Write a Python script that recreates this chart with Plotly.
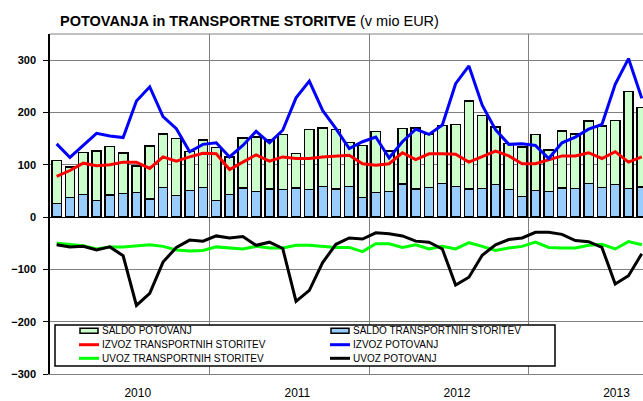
import plotly.graph_objects as go

# monthly data, Jan 2010 - Sep 2013 (mio EUR)
months = [f"{y}-{m:02d}" for y in (2010, 2011, 2012) for m in range(1, 13)] + \
         [f"2013-{m:02d}" for m in range(1, 10)]
years = ["2010", "2011", "2012", "2013"]

saldo_transport = [25.5, 37, 43.4, 32, 42, 44.7, 47.3, 34.5, 56.8, 40.9, 50.4, 57,
                   32, 43.4, 55.5, 49, 53.6, 52.4, 55.5, 53, 58.7, 53.6, 58.7, 37,
                   46.6, 49, 63.2, 53.6, 56.2, 64.5, 58.7, 53.6, 54.3, 62.3, 52.4, 39.6,
                   50.4, 49, 55.5, 54.3, 64.5, 56.8, 62, 54.3, 57.5]
saldo_potovanj = [83, 59, 80, 94, 93, 78, 50, 101, 102, 109, 75, 90,
                  101, 71, 96, 104, 94, 105, 66, 114, 112, 114, 84, 100,
                  117, 77, 106, 117, 103, 111, 118, 168, 140, 110, 88, 94,
                  107, 79, 109, 105, 119, 117, 123, 186, 152]
izvoz_transport = [78, 89, 103, 98, 100, 105, 105, 93, 115, 107, 115, 122,
                   121, 91, 105, 119, 107, 115, 112, 112, 115, 116, 118, 102,
                   99, 102, 123, 110, 121, 121, 120, 105, 115, 126, 117, 102,
                   102, 109, 117, 117, 123, 112, 125, 105, 115]
izvoz_potovanj = [140, 114, 137, 160, 155, 152, 222, 249, 192, 169, 125, 139,
                  142, 115, 137, 164, 142, 166, 228, 260, 204, 169, 131, 144,
                  153, 113, 144, 168, 158, 176, 255, 289, 214, 167, 139, 140,
                  137, 112, 142, 153, 168, 177, 254, 303, 227]
uvoz_transport = [-50, -53, -55, -61, -57, -57, -55, -53, -56, -63, -65, -64,
                  -57, -59, -61, -56, -59, -59, -54, -54, -56, -58, -58, -66,
                  -51, -51, -58, -53, -61, -56, -61, -49, -56, -64, -59, -56,
                  -48, -58, -59, -59, -54, -52, -61, -47, -53]
uvoz_potovanj = [-53, -57, -56, -63, -57, -74, -169, -146, -86, -58, -44, -46,
                 -36, -40, -37, -54, -48, -60, -161, -140, -87, -52, -40, -42,
                 -30, -32, -36, -46, -48, -61, -130, -115, -73, -53, -43, -40,
                 -29, -29, -33, -45, -47, -58, -128, -112, -70]

x = list(range(len(months)))
FONT = "Arial, Liberation Sans, sans-serif"

fig = go.Figure()
fig.add_trace(go.Bar(x=x, y=saldo_transport, name="SALDO TRANSPORTNIH STORITEV",
                     marker=dict(color="#99ccff", line=dict(color="black", width=1.5))))
fig.add_trace(go.Bar(x=x, y=saldo_potovanj, name="SALDO POTOVANJ",
                     marker=dict(color="#ccffcc", line=dict(color="black", width=1.5))))

lines = [
    (izvoz_transport, "IZVOZ TRANSPORTNIH STORITEV", "#ff0000"),
    (izvoz_potovanj, "IZVOZ POTOVANJ", "#0000ff"),
    (uvoz_transport, "UVOZ TRANSPORTNIH STORITEV", "#00ff00"),
    (uvoz_potovanj, "UVOZ POTOVANJ", "#000000"),
]
for vals, name, col in lines:
    fig.add_trace(go.Scatter(x=x, y=vals, name=name, mode="lines",
                             line=dict(color=col, width=3)))

# plot area in pixels: x 50..643, y 34..374
def px(v):
    return (v - 50) / 593

def py(v):
    return (374 - v) / 340

shapes = [
    dict(type="line", xref="paper", yref="paper", x0=0, x1=1, y0=1, y1=1,
         line=dict(color="#808080", width=1)),
    dict(type="rect", xref="paper", yref="paper", x0=px(55), x1=px(555),
         y0=py(366), y1=py(325), fillcolor="white", line=dict(color="black", width=1.5),
         layer="above"),
]
annotations = []

# hand-built legend, two columns x three rows
legend_items = [
    ("SALDO POTOVANJ", "#ccffcc", "bar"),
    ("SALDO TRANSPORTNIH STORITEV", "#99ccff", "bar"),
    ("IZVOZ TRANSPORTNIH STORITEV", "#ff0000", "line"),
    ("IZVOZ POTOVANJ", "#0000ff", "line"),
    ("UVOZ TRANSPORTNIH STORITEV", "#00ff00", "line"),
    ("UVOZ POTOVANJ", "#000000", "line"),
]
rows_y = [330.7, 344.7, 358.3]
cols_x = [79, 330]
for k, (name, col, kind) in enumerate(legend_items):
    cy = rows_y[k // 2]
    cx = cols_x[k % 2]
    if kind == "bar":
        shapes.append(dict(type="rect", xref="paper", yref="paper",
                           x0=px(cx + 1), x1=px(cx + 19), y0=py(cy + 2.5), y1=py(cy - 2.5),
                           fillcolor=col, line=dict(color="black", width=1.5), layer="above"))
    else:
        shapes.append(dict(type="line", xref="paper", yref="paper",
                           x0=px(cx), x1=px(cx + 20), y0=py(cy), y1=py(cy),
                           line=dict(color=col, width=3), layer="above"))
    annotations.append(dict(xref="paper", yref="paper", x=px(cx + 20.5), y=py(cy),
                            xanchor="left", yanchor="middle", showarrow=False,
                            text=name, font=dict(family=FONT, size=10, color="black")))

fig.update_layout(
    width=643, height=401,
    margin=dict(l=50, r=0, t=34, b=27),
    paper_bgcolor="white", plot_bgcolor="white",
    barmode="stack", bargap=0.3,
    showlegend=False,
    font=dict(family=FONT, color="black"),
    title=dict(text="<b>POTOVANJA in TRANSPORTNE STORITVE</b> (v mio EUR)",
               x=60 / 643, xanchor="left", xref="container",
               y=1 - 20.5 / 401, yanchor="middle", yref="container",
               font=dict(family=FONT, size=14.5, color="black")),
    shapes=shapes, annotations=annotations,
)
fig.update_yaxes(range=[-300, 350], tickvals=[-300, -200, -100, 0, 100, 200, 300],
                 showgrid=True, gridcolor="#808080", gridwidth=1,
                 showline=True, linecolor="black", linewidth=1.5,
                 ticks="outside", ticklen=5, tickcolor="black", ticklabelstandoff=5,
                 zeroline=True, zerolinecolor="black", zerolinewidth=1,
                 tickfont=dict(family=FONT, size=11, weight="bold"))
fig.update_xaxes(range=[-0.5, 44.09], tickvals=[6.1, 18.1, 30.1, 42.1], ticktext=years,
                 showgrid=False, ticks="", showline=True, linecolor="#808080",
                 ticklabelstandoff=8, zeroline=False,
                 tickfont=dict(family=FONT, size=12),
                 minor=dict(tickmode="array", tickvals=[11.5, 23.5, 35.5],
                            showgrid=True, gridcolor="#808080", gridwidth=1, ticks=""))

# the page's default body margin would shift the chart by 8px
fig.write_html("out.html", config={"displayModeBar": False},
               post_script="document.body.style.margin='0';")
